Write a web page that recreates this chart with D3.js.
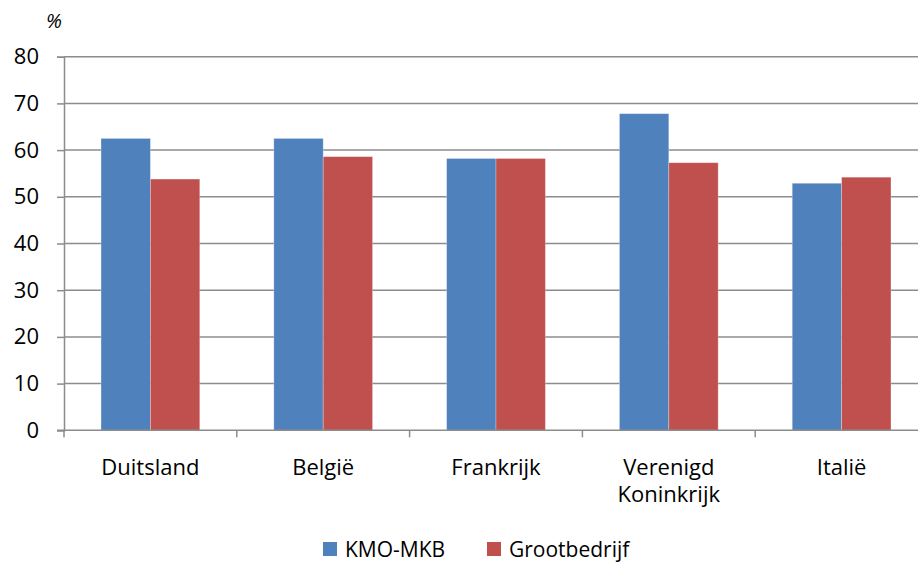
<!DOCTYPE html>
<html>
<head>
<meta charset="utf-8">
<script src="https://cdn.jsdelivr.net/npm/d3@7"></script>
<style>
  body { margin: 0; background: #fff; }
  svg { display: block; font-family: "Open Sans", sans-serif; }
</style>
</head>
<body>
<div id="graph"></div>
<script>
var categories = [["Duitsland"], ["België"], ["Frankrijk"], ["Verenigd", "Koninkrijk"], ["Italië"]];
var seriesNames = ["KMO-MKB", "Grootbedrijf"];
var kmo = [62.5, 62.5, 58.2, 67.8, 52.9];
var groot = [53.8, 58.6, 58.2, 57.3, 54.2];
var yTicks = [0, 10, 20, 30, 40, 50, 60, 70, 80];
var colors = ["#4F81BD", "#C0504D"];

var w = 918, h = 565;
var pLeft = 64, pRight = 928, pTop = 56.7, pBottom = 430.3;
var fontSize = "22px";

var svg = d3.select("#graph").append("svg").attr("width", w).attr("height", h);

var x = d3.scaleBand().domain(d3.range(categories.length)).range([pLeft, pRight]);
var xs = d3.scaleBand().domain([0, 1]).range([0, x.bandwidth()]).paddingInner(0).paddingOuter(0.75);
var y = d3.scaleLinear().domain([0, 80]).range([pBottom, pTop]);

// gridlines
svg.selectAll("line.grid")
  .data(yTicks.slice(1))
  .enter().append("line")
  .attr("class", "grid")
  .attr("x1", pLeft).attr("x2", pRight)
  .attr("y1", function (d) { return y(d); })
  .attr("y2", function (d) { return y(d); })
  .attr("stroke", "#8c8c8c").attr("stroke-width", 1.5);

// bars
var data = [];
categories.forEach(function (c, i) {
  data.push({ c: i, s: 0, v: kmo[i] });
  data.push({ c: i, s: 1, v: groot[i] });
});
svg.selectAll("rect.bar")
  .data(data)
  .enter().append("rect")
  .attr("class", "bar")
  .attr("x", function (d) { return x(d.c) + xs(d.s); })
  .attr("width", xs.bandwidth())
  .attr("y", function (d) { return y(d.v); })
  .attr("height", function (d) { return pBottom - y(d.v); })
  .attr("fill", function (d) { return colors[d.s]; })
  .attr("stroke", "#ffffff").attr("stroke-opacity", 0.35).attr("stroke-width", 0.8);

// y axis
var yAxis = d3.axisLeft(y).tickValues(yTicks).tickSize(7).tickPadding(18);
var gy = svg.append("g").attr("transform", "translate(" + pLeft + ",0)").call(yAxis);
gy.select(".domain").attr("stroke", "#8c8c8c").attr("stroke-width", 1.5);
gy.selectAll(".tick line").attr("stroke", "#8c8c8c").attr("stroke-width", 1.5);
gy.selectAll(".tick text").attr("font-size", fontSize).attr("fill", "#000")
  .attr("font-family", "'Open Sans', sans-serif");

// x axis baseline + ticks
svg.append("line")
  .attr("x1", pLeft - 7).attr("x2", pRight)
  .attr("y1", pBottom).attr("y2", pBottom)
  .attr("stroke", "#8c8c8c").attr("stroke-width", 1.5);
svg.selectAll("line.xtick")
  .data(d3.range(categories.length + 1))
  .enter().append("line")
  .attr("x1", function (d) { return pLeft + d * x.step(); })
  .attr("x2", function (d) { return pLeft + d * x.step(); })
  .attr("y1", pBottom).attr("y2", pBottom + 7)
  .attr("stroke", "#8c8c8c").attr("stroke-width", 1.5);

// category labels
var lab = svg.selectAll("text.cat")
  .data(categories)
  .enter().append("text")
  .attr("class", "cat")
  .attr("text-anchor", "middle")
  .attr("font-size", fontSize)
  .attr("fill", "#000")
  .attr("x", function (d, i) { return x(i) + x.bandwidth() / 2; })
  .attr("y", 475);
lab.selectAll("tspan")
  .data(function (d) { return d; })
  .enter().append("tspan")
  .attr("x", function () { return d3.select(this.parentNode).attr("x"); })
  .attr("dy", function (d, i) { return i == 0 ? 0 : 27; })
  .text(function (d) { return d; });

// percent sign
svg.append("text")
  .attr("x", 46).attr("y", 28)
  .attr("font-size", "20px").attr("font-style", "italic")
  .text("%");

// legend
var legX = [323, 487];
var leg = svg.selectAll("g.leg")
  .data(seriesNames)
  .enter().append("g")
  .attr("transform", function (d, i) { return "translate(" + legX[i] + ",542)"; });
leg.append("rect").attr("width", 14).attr("height", 14)
  .attr("fill", function (d, i) { return colors[i]; });
leg.append("text").attr("x", 22).attr("y", 15)
  .attr("font-size", "21px").attr("fill", "#000")
  .text(function (d) { return d; });
</script>
</body>
</html>
